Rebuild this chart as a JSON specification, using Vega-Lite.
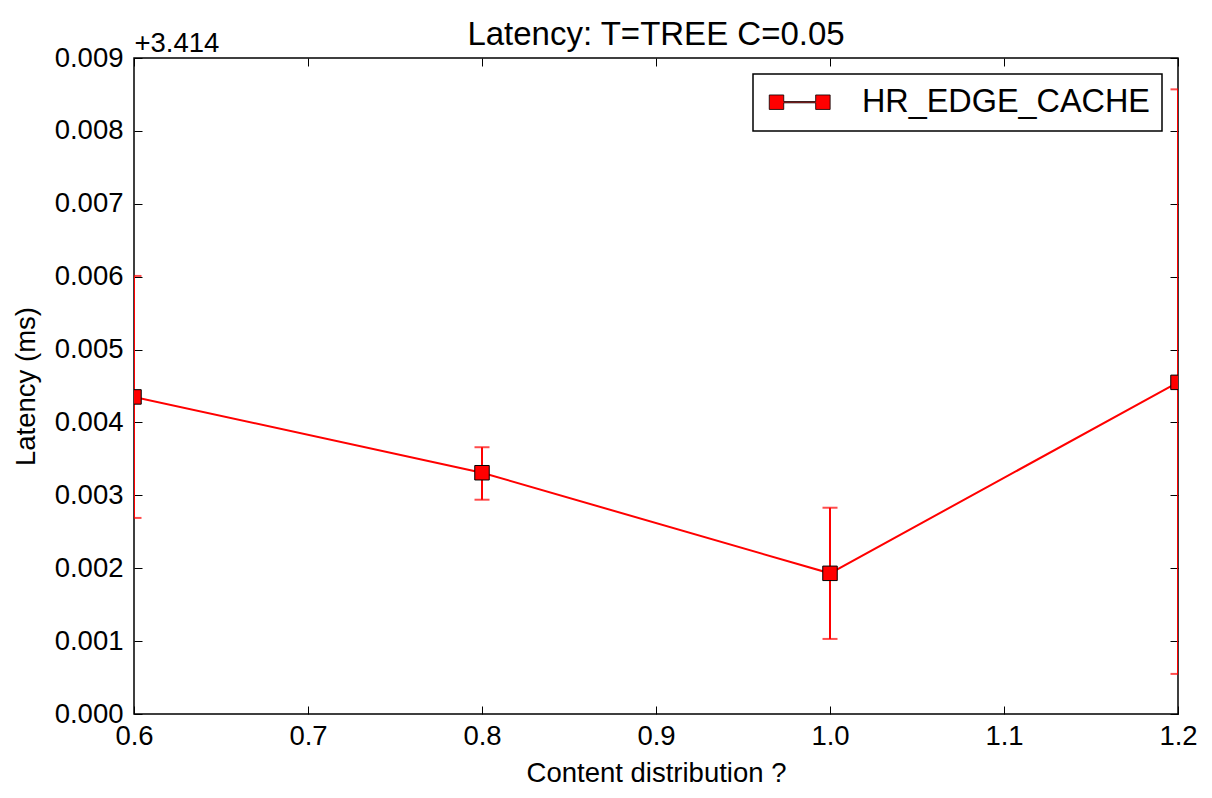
{
  "$schema": "https://vega.github.io/schema/vega-lite/v6.json",
  "width": 1044,
  "height": 656,
  "autosize": {"type": "none"},
  "padding": {"left": 134, "top": 58, "right": 34, "bottom": 84},
  "background": "white",
  "title": {
    "text": "Latency: T=TREE C=0.05",
    "fontSize": 33,
    "font": "Liberation Sans",
    "fontWeight": "normal",
    "color": "black",
    "frame": "group",
    "anchor": "middle",
    "baseline": "alphabetic",
    "offset": -48
  },
  "config": {
    "view": {"stroke": "black", "strokeWidth": 1.5},
    "font": "Liberation Sans",
    "axis": {
      "domain": false,
      "grid": false,
      "tickColor": "black",
      "tickWidth": 1,
      "tickSize": -8,
      "labelFont": "Liberation Sans",
      "labelFontSize": 27.5,
      "labelColor": "black",
      "labelFlush": false,
      "labelOverlap": false,
      "labelBound": false,
      "titleFont": "Liberation Sans",
      "titleFontSize": 27.5,
      "titleFontWeight": "normal",
      "titleColor": "black"
    }
  },
  "data": {
    "values": [
      {"x": 0.6, "y": 3.41835, "lo": 3.41669, "hi": 3.42001, "series": "HR_EDGE_CACHE"},
      {"x": 0.8, "y": 3.41731, "lo": 3.41694, "hi": 3.41766, "series": "HR_EDGE_CACHE"},
      {"x": 1.0, "y": 3.41593, "lo": 3.41503, "hi": 3.41683, "series": "HR_EDGE_CACHE"},
      {"x": 1.2, "y": 3.41855, "lo": 3.41455, "hi": 3.42257, "series": "HR_EDGE_CACHE"}
    ]
  },
  "layer": [
    {
      "mark": {"type": "line", "color": "red", "strokeWidth": 2, "clip": true},
      "encoding": {
        "x": {
          "field": "x", "type": "quantitative",
          "scale": {"domain": [0.6, 1.2], "nice": false, "zero": false},
          "axis": {
            "orient": "bottom",
            "values": [0.6, 0.7, 0.8, 0.9, 1.0, 1.1, 1.2],
            "format": ".1f",
            "labelPadding": 16,
            "title": "Content distribution ?",
            "titlePadding": 10
          }
        },
        "y": {
          "field": "y", "type": "quantitative",
          "scale": {"domain": [3.414, 3.423], "nice": false, "zero": false},
          "axis": {
            "orient": "left",
            "values": [3.414, 3.415, 3.416, 3.417, 3.418, 3.419, 3.42, 3.421, 3.422, 3.423],
            "labelExpr": "format(datum.value - 3.414, '.3f')",
            "labelPadding": 19,
            "title": "Latency (ms)",
            "titlePadding": 14
          }
        }
      }
    },
    {
      "mark": {"type": "rule", "color": "red", "strokeWidth": 2, "clip": true},
      "encoding": {
        "x": {
          "field": "x", "type": "quantitative",
          "axis": {
            "orient": "top",
            "values": [0.6, 0.7, 0.8, 0.9, 1.0, 1.1, 1.2],
            "labels": false,
            "title": "+3.414",
            "titleAnchor": "start",
            "titleAlign": "left",
            "titleBaseline": "alphabetic",
            "titleAngle": 0,
            "titlePadding": 6
          }
        },
        "y": {
          "field": "lo", "type": "quantitative",
          "axis": {
            "orient": "right",
            "values": [3.414, 3.415, 3.416, 3.417, 3.418, 3.419, 3.42, 3.421, 3.422, 3.423],
            "labels": false,
            "title": null
          }
        },
        "y2": {"field": "hi"}
      }
    },
    {
      "mark": {"type": "tick", "orient": "horizontal", "color": "red", "thickness": 2, "size": 15, "clip": true},
      "encoding": {
        "x": {"field": "x", "type": "quantitative", "axis": null},
        "y": {"field": "lo", "type": "quantitative", "axis": null}
      }
    },
    {
      "mark": {"type": "tick", "orient": "horizontal", "color": "red", "thickness": 2, "size": 15, "clip": true},
      "encoding": {
        "x": {"field": "x", "type": "quantitative", "axis": null},
        "y": {"field": "hi", "type": "quantitative", "axis": null}
      }
    },
    {
      "mark": {"type": "point", "shape": "square", "size": 210, "filled": true, "opacity": 1, "stroke": "black", "strokeWidth": 1, "clip": true},
      "encoding": {
        "x": {"field": "x", "type": "quantitative", "axis": null},
        "y": {"field": "y", "type": "quantitative", "axis": null},
        "color": {
          "field": "series", "type": "nominal",
          "scale": {"domain": ["HR_EDGE_CACHE"], "range": ["#ff0000"]},
          "legend": {
            "title": null,
            "orient": "top-right",
            "offset": 16,
            "padding": 12,
            "strokeColor": "black",
            "fillColor": "white",
            "cornerRadius": 0,
            "symbolType": "M-2.9,-0.69H-1.52V-0.06H1.52V-0.69H2.9V0.69H1.52V0.06H-1.52V0.69H-2.9Z",
            "symbolSize": 441,
            "symbolFillColor": "#ff0000",
            "symbolStrokeColor": "black",
            "symbolStrokeWidth": 0.8,
            "symbolOpacity": 1,
            "symbolOffset": 18.5,
            "labelOffset": 46,
            "labelFont": "Liberation Sans",
            "labelFontSize": 32.4,
            "labelColor": "black",
            "labelLimit": 500,
            "encode": {"legend": {"update": {"strokeWidth": {"value": 1.5}}}}
          }
        }
      }
    }
  ],
  "resolve": {"axis": {"x": "independent", "y": "independent"}}
}
